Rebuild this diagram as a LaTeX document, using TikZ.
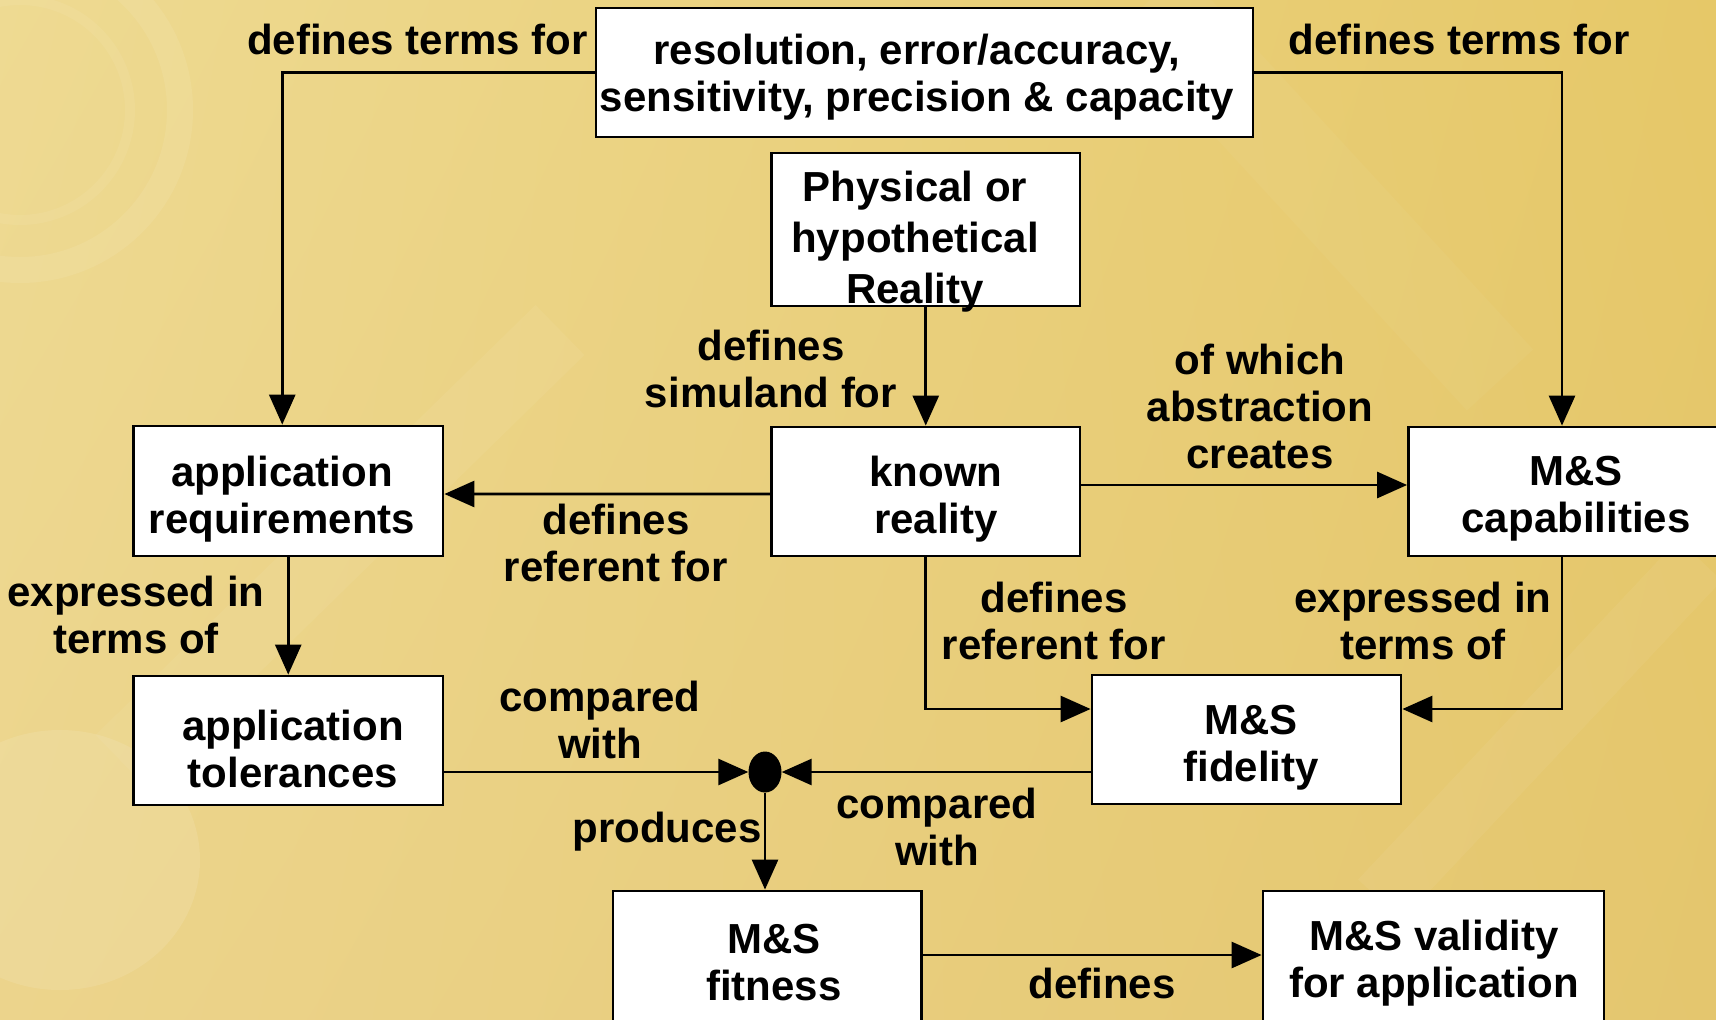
\documentclass[tikz,border=0pt]{standalone}
\usepackage{fontspec}
\setmainfont{Liberation Sans}
\usetikzlibrary{arrows.meta,shapes.geometric,shadings}

\definecolor{bgUL}{RGB}{238,218,146}
\definecolor{bgUR}{RGB}{230,200,104}
\definecolor{bgLL}{RGB}{236,212,140}
\definecolor{bgLR}{RGB}{228,198,110}

\begin{document}
\begin{tikzpicture}[x=1bp,y=-1bp,
  box/.style={draw=black, fill=white, line width=2.8bp, inner sep=0pt},
  txt/.style={font=\bfseries\fontsize{42bp}{47bp}\selectfont, align=center, inner sep=0pt},
  conn/.style={line width=2.8bp, -{Triangle[length=30bp,width=26bp]}},
]
\useasboundingbox (0,0) rectangle (1716,1019);
\clip (0,0) rectangle (1716,1019);

% golden background with faint light streaks
\shade[upper left=bgUL, upper right=bgUR, lower left=bgLL, lower right=bgLR]
  (0,0) rectangle (1716,1019);
\draw[white, opacity=0.08, line width=26bp] (20,110) circle[radius=160bp];
\draw[white, opacity=0.06, line width=10bp] (20,110) circle[radius=110bp];
\fill[white, opacity=0.10] (60,860) ellipse[x radius=140bp, y radius=130bp];
\draw[white, opacity=0.05, line width=70bp] (120,760) -- (560,330);
\draw[white, opacity=0.05, line width=60bp] (1380,900) -- (1700,560);
\draw[white, opacity=0.04, line width=90bp] (1150,0) -- (1500,380);

% boxes
\node[box, minimum width=657bp,   minimum height=129bp] (top)   at (924.5,72.5) {};
\node[box, minimum width=308.5bp, minimum height=153bp] (phys)  at (925.75,229.5) {};
\node[box, minimum width=308.5bp, minimum height=129bp] (known) at (925.75,491.5) {};
\node[box, minimum width=309.5bp, minimum height=130bp] (req)   at (288.25,491) {};
\node[box, minimum width=316.5bp, minimum height=129bp] (cap)   at (1566.75,491.5) {};
\node[box, minimum width=309.5bp, minimum height=129bp] (tol)   at (288.25,740.5) {};
\node[box, minimum width=309bp,   minimum height=129bp] (fid)   at (1246.5,739.5) {};
\node[box, minimum width=308.5bp, minimum height=134bp] (fit)   at (767.25,958) {};
\node[box, minimum width=341bp,   minimum height=134bp] (val)   at (1433.5,958) {};
\node[ellipse, fill=black, inner sep=0pt, minimum width=33bp, minimum height=41bp] (dot) at (765,772) {};

% box texts
\node[txt] (top-t)   at (917,77.5)   {resolution, error/accuracy,\\sensitivity, precision \& capacity};
\node[txt, font=\bfseries\fontsize{42bp}{51bp}\selectfont] (phys-t) at (915,242) {Physical or\\hypothetical\\Reality};
\node[txt] (known-t) at (936,499.5)  {known\\reality};
\node[txt] (req-t)   at (282,499)    {application\\requirements};
\node[txt] (cap-t)   at (1576,499)   {M\&S\\capabilities};
\node[txt] (tol-t)   at (293,748.5)  {application\\tolerances};
\node[txt] (fid-t)   at (1251,747.5) {M\&S\\fidelity};
\node[txt] (fit-t)   at (774,963)    {M\&S\\fitness};
\node[txt] (val-t)   at (1434,963)   {M\&S validity\\for application};

% connectors
\draw[conn] (top.west) -| ([xshift=-6bp]req.north);
\draw[conn] (top.east) -| ([xshift=-4.75bp]cap.north);
\draw[conn] (phys.south) -- (known.north);
\draw[conn] ([yshift=-2.5bp]known.west) -- ([yshift=-3bp]req.east);
\draw[conn] ([yshift=6.5bp]known.east) -- ([yshift=6.5bp]cap.west);
\draw[conn] (req.south) -- (tol.north);
\draw[conn] (known.south) |- ([yshift=30.5bp]fid.west);
\draw[conn] ([xshift=-4.75bp]cap.south) |- ([yshift=30.5bp]fid.east);
\draw[conn] (tol.east |- dot.west) -- (dot.west);
\draw[conn] (fid.west |- dot.east) -- (dot.east);
\draw[conn] (dot.south) -- (dot.south |- fit.north);
\draw[conn] ([yshift=3bp]fit.east) -- ([yshift=3bp]val.west);

% connector labels
\node[txt] (l-dtl)  at (417.5,39)   {defines terms for};
\node[txt] (l-dtr)  at (1459,39)    {defines terms for};
\node[txt] (l-sim)  at (771,369)    {defines\\simuland for};
\node[txt] (l-refl) at (616,543)    {defines\\referent for};
\node[txt] (l-abs)  at (1260,406)   {of which\\abstraction\\creates};
\node[txt] (l-expl) at (136,614.5)  {expressed in\\terms of};
\node[txt] (l-refr) at (1054,620.5) {defines\\referent for};
\node[txt] (l-expr) at (1423,620.5) {expressed in\\terms of};
\node[txt] (l-cmp1) at (600,719.5)  {compared\\with};
\node[txt] (l-cmp2) at (937,826.5)  {compared\\with};
\node[txt] (l-prod) at (667,832)    {produces};
\node[txt] (l-def)  at (1102,983)   {defines};
\end{tikzpicture}
\end{document}
